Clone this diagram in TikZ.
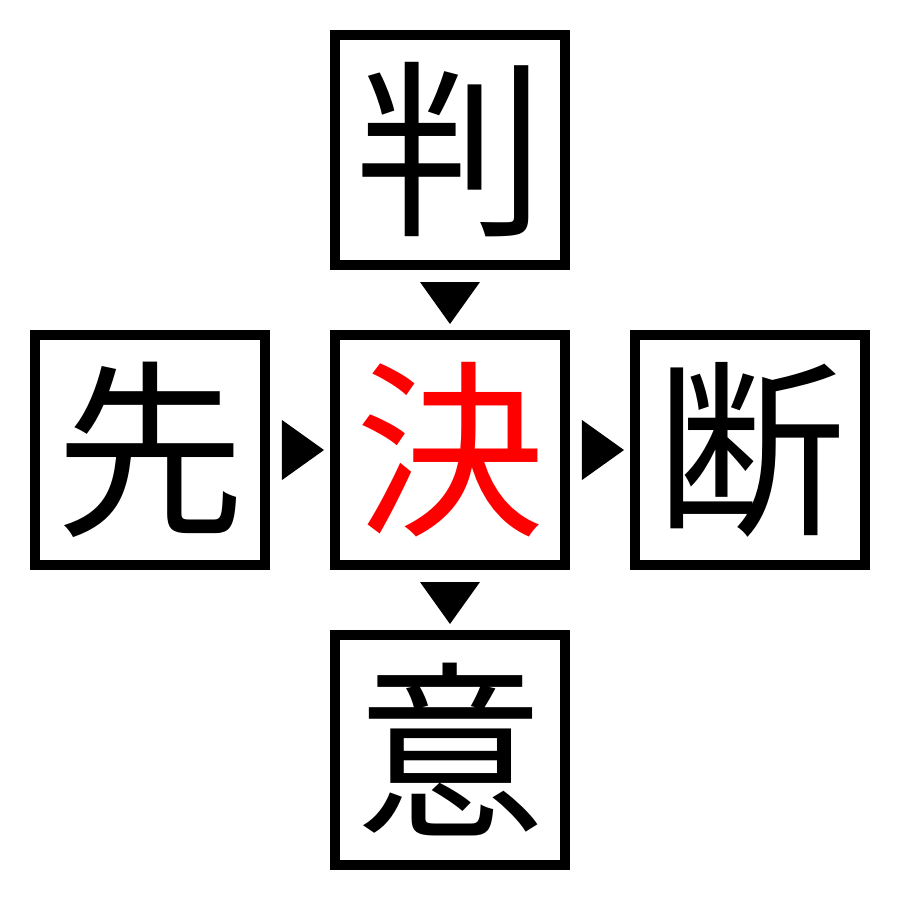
\documentclass[tikz,border=0pt]{standalone}
\usepackage{fontspec}
\newfontfamily\cjk{Noto Sans CJK JP}
\usetikzlibrary{positioning}
\usetikzlibrary{calc}

\begin{document}
\begin{tikzpicture}[
  kanji/.style={draw,line width=0.1cm,minimum size=2.3cm,inner sep=0pt,
    outer sep=0pt,font=\cjk\fontsize{54pt}{54pt}\selectfont},
  node distance=0.7cm]
 \useasboundingbox (-4.5,-4.5) rectangle (4.5,4.5);
 \node[kanji,text=red] (ketsu) at (0,0) {決};
 \node[kanji,above=of ketsu] (han) {判};
 \node[kanji,left=of ketsu] (sen) {先};
 \node[kanji,right=of ketsu] (dan) {断};
 \node[kanji,below=of ketsu] (i) {意};
 \fill ($(han.south)+(-0.3,-0.17)$)--($(han.south)+(0.3,-0.17)$)--($(han.south)+(0,-0.59)$)--cycle;
 \fill ($(sen.east)+(0.17,0.3)$)--($(sen.east)+(0.17,-0.3)$)--($(sen.east)+(0.59,0)$)--cycle;
 \fill ($(ketsu.east)+(0.17,0.3)$)--($(ketsu.east)+(0.17,-0.3)$)--($(ketsu.east)+(0.59,0)$)--cycle;
 \fill ($(ketsu.south)+(-0.3,-0.17)$)--($(ketsu.south)+(0.3,-0.17)$)--($(ketsu.south)+(0,-0.59)$)--cycle;
\end{tikzpicture}
\end{document}
